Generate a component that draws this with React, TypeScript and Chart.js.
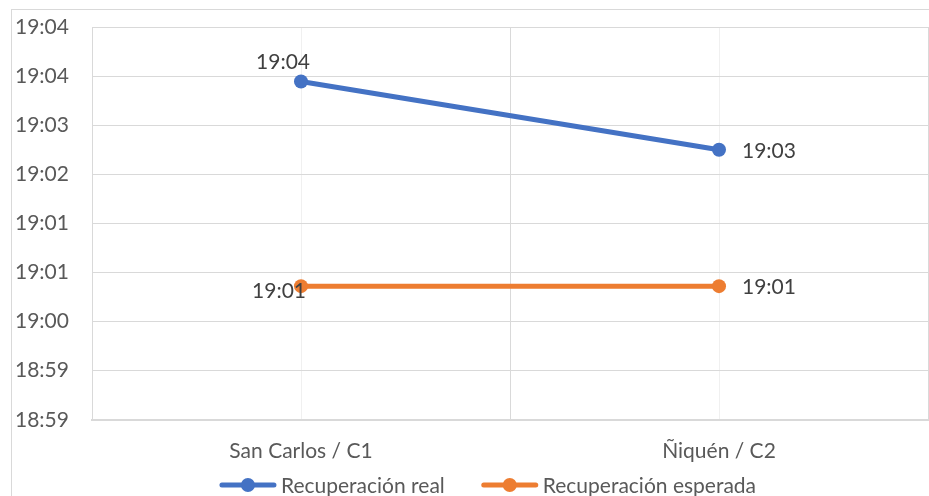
import React, { useEffect, useRef } from 'react';
import { Chart, registerables } from 'chart.js';

Chart.register(...registerables);

// ---- data ----
const categories = ['San Carlos / C1', 'Ñiquén / C2'];
const seriesNames = ['Recuperación real', 'Recuperación esperada'];
const realTimes = ['19:04:00', '19:03:00'];
const expectedTimes = ['19:01:00', '19:01:00'];
const yAxisStart = '18:59:02.4';
const yAxisStepSeconds = 43.2;
const yAxisSteps = 8;

const seriesColors = ['#4472C4', '#ED7D31'];
const FONT = 'Lato';

const toSec = (s: string) => {
  const [h, m, sec] = s.split(':').map(Number);
  return h * 3600 + m * 60 + (sec || 0);
};
const fmt = (v: number) => {
  const t = Math.floor(v / 60 + 1e-6);
  const h = Math.floor(t / 60);
  const m = t % 60;
  return `${h}:${String(m).padStart(2, '0')}`;
};

const yMin = toSec(yAxisStart);
const yMax = yMin + yAxisStepSeconds * yAxisSteps;

const framePlugin = {
  id: 'frame',
  beforeDraw(chart: any) {
    const ctx = chart.ctx;
    ctx.save();
    ctx.fillStyle = '#ffffff';
    ctx.fillRect(0, 0, chart.width, chart.height);
    ctx.strokeStyle = '#d9d9d9';
    ctx.lineWidth = 1;
    ctx.strokeRect(11.5, 9.5, chart.width + 20, chart.height + 20);
    ctx.restore();
  },
};

const labelOffsets = [
  [
    { dx: -18, dy: -19, align: 'center' },
    { dx: 23, dy: 1, align: 'left' },
  ],
  [
    { dx: -22, dy: 5, align: 'center' },
    { dx: 23, dy: 1, align: 'left' },
  ],
];

const dataLabelPlugin = {
  id: 'dataLabels',
  afterDatasetsDraw(chart: any) {
    const ctx = chart.ctx;
    ctx.save();
    ctx.font = `21px ${FONT}`;
    ctx.fillStyle = '#404040';
    ctx.textBaseline = 'middle';
    chart.data.datasets.forEach((ds: any, di: number) => {
      const meta = chart.getDatasetMeta(di);
      meta.data.forEach((pt: any, i: number) => {
        const o = labelOffsets[di][i];
        ctx.textAlign = o.align;
        ctx.fillText(fmt(ds.data[i]), pt.x + o.dx, pt.y + o.dy);
      });
    });
    ctx.restore();
  },
};

// legend drawn at the bottom: line + marker symbol, then series name
const legendPlugin = {
  id: 'customLegend',
  afterDraw(chart: any) {
    const ctx = chart.ctx;
    const symW = 56;
    const symGap = 5;
    const itemGap = 37;
    const y = 485;
    ctx.save();
    ctx.font = `21px ${FONT}`;
    const items = chart.data.datasets.map((ds: any) => ({
      text: ds.label,
      color: ds.borderColor,
      w: ctx.measureText(ds.label).width,
    }));
    const total =
      items.reduce((a: number, it: any) => a + symW + symGap + it.w, 0) + itemGap * (items.length - 1);
    const ca = chart.chartArea;
    let x = (ca.left + ca.right) / 2 - 22 - total / 2;
    items.forEach((it: any) => {
      ctx.strokeStyle = it.color;
      ctx.lineWidth = 5;
      ctx.lineCap = 'round';
      ctx.beginPath();
      ctx.moveTo(x + 2, y);
      ctx.lineTo(x + symW - 2, y);
      ctx.stroke();
      ctx.fillStyle = it.color;
      ctx.beginPath();
      ctx.arc(x + symW / 2, y, 7, 0, Math.PI * 2);
      ctx.fill();
      ctx.fillStyle = '#595959';
      ctx.textAlign = 'left';
      ctx.textBaseline = 'middle';
      ctx.fillText(it.text, x + symW + symGap, y + 1);
      x += symW + symGap + it.w + itemGap;
    });
    ctx.restore();
  },
};

export default function App() {
  const ref = useRef<HTMLCanvasElement>(null);
  useEffect(() => {
    document.body.style.margin = '0';
    const chart = new Chart(ref.current!, {
      type: 'line',
      data: {
        labels: categories,
        datasets: [
          {
            label: seriesNames[0],
            data: realTimes.map(toSec),
            borderColor: seriesColors[0],
            backgroundColor: seriesColors[0],
            borderWidth: 5,
            borderCapStyle: 'round',
            pointRadius: 7,
            pointBorderWidth: 0,
            pointBackgroundColor: seriesColors[0],
            xAxisID: 'x',
          },
          {
            label: seriesNames[1],
            data: expectedTimes.map(toSec),
            borderColor: seriesColors[1],
            backgroundColor: seriesColors[1],
            borderWidth: 5,
            borderCapStyle: 'round',
            pointRadius: 7,
            pointBorderWidth: 0,
            pointBackgroundColor: seriesColors[1],
            xAxisID: 'x',
          },
        ],
      },
      options: {
        responsive: false,
        animation: false,
        devicePixelRatio: 1,
        layout: { autoPadding: false, padding: { left: 15, top: 27, right: 1, bottom: 13 } },
        scales: {
          x: {
            type: 'category',
            offset: true,
            grid: { offset: true, color: '#d9d9d9', drawTicks: false },
            border: { color: '#d9d9d9', width: 2 },
            ticks: { font: { family: FONT, size: 21 }, color: '#595959', padding: 19 },
            afterFit: (s: any) => {
              s.paddingLeft = 0;
              s.paddingRight = 0;
            },
          },
          xc: {
            type: 'category',
            position: 'top',
            labels: categories,
            offset: true,
            grid: { offset: false, color: '#f0f0f0', drawTicks: false },
            border: { display: false },
            ticks: { display: false },
            afterFit: (s: any) => {
              s.height = 0;
              s.paddingLeft = 0;
              s.paddingRight = 0;
            },
          },
          y: {
            type: 'linear',
            min: yMin,
            max: yMax,
            grid: { color: '#d9d9d9', drawTicks: false },
            border: { display: false },
            afterBuildTicks: (s: any) => {
              const t = [];
              for (let i = 0; i <= yAxisSteps; i++) t.push({ value: yMin + i * yAxisStepSeconds });
              s.ticks = t;
            },
            afterFit: (s: any) => {
              s.width = 77;
            },
            ticks: {
              font: { family: FONT, size: 21 },
              color: '#595959',
              crossAlign: 'far',
              callback: (v: any) => fmt(Number(v)),
            },
          },
        },
        plugins: {
          tooltip: { enabled: false },
          legend: { display: false },
        },
      },
      plugins: [framePlugin, dataLabelPlugin, legendPlugin],
    } as any);
    return () => chart.destroy();
  }, []);
  return (
    <div style={{ width: 929, height: 496 }}>
      <canvas ref={ref} width={929} height={496} style={{ display: 'block' }} />
    </div>
  );
}
